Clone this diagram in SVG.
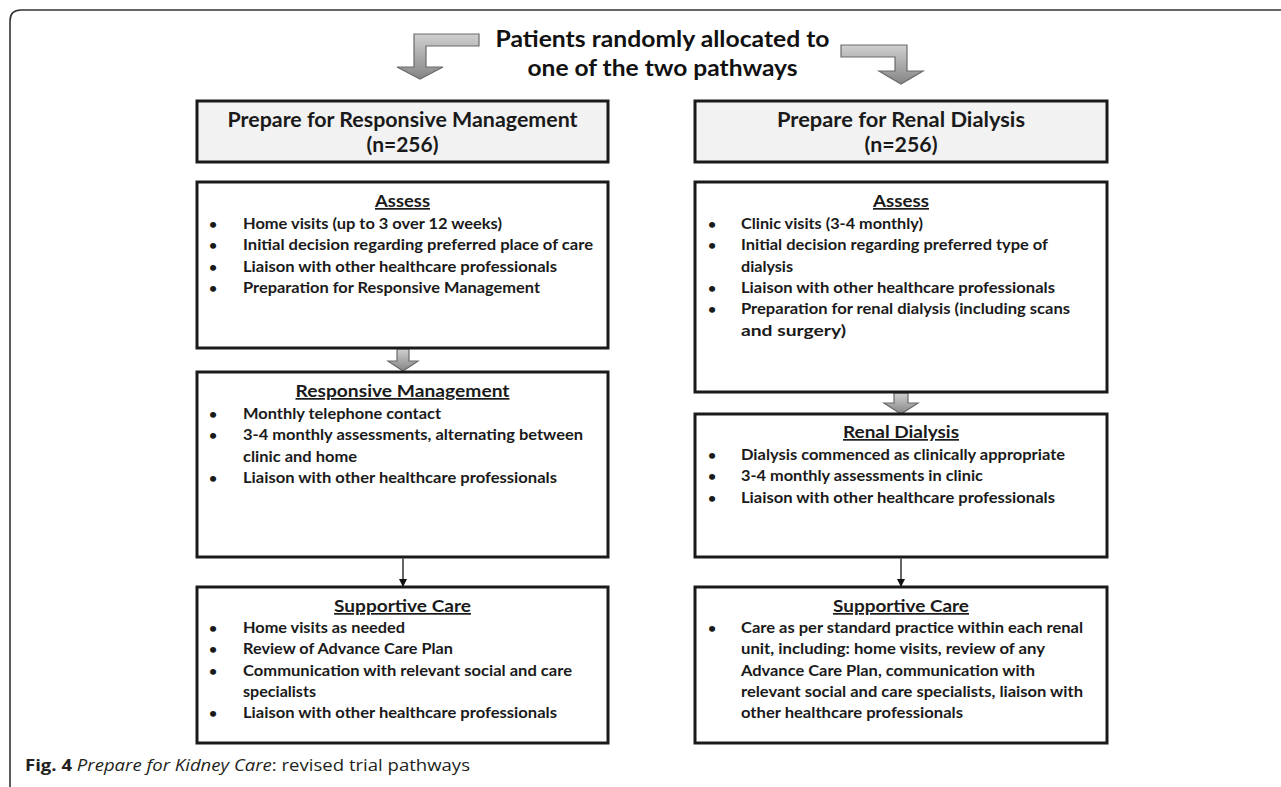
<svg xmlns="http://www.w3.org/2000/svg" width="1281" height="787" viewBox="0 0 1281 787">
<defs>
<linearGradient id="gArrow" x1="0" y1="0" x2="0" y2="1">
<stop offset="0" stop-color="#d0d0d0"/>
<stop offset="1" stop-color="#858585"/>
</linearGradient>
<marker id="mHead" markerWidth="8" markerHeight="8" refX="7" refY="4" orient="auto" markerUnits="userSpaceOnUse">
<path d="M0,0 L8,4 L0,8 Z" fill="#111"/>
</marker>
<style>
.frame{fill:none;stroke:#333;stroke-width:1.6}
.hdr{fill:#f2f2f2;stroke:#1a1a1a;stroke-width:3}
.box{fill:#fff;stroke:#1a1a1a;stroke-width:3}
.blk{fill:url(#gArrow);stroke:#6a6a6a;stroke-width:1.2;stroke-linejoin:miter}
.thin{stroke:#111;stroke-width:1.3;fill:none}
text{font-family:Lato,"Liberation Sans",sans-serif;font-weight:700;fill:#1a1a1a}
.title{font-size:23px;fill:#111}
.htxt{font-size:20px}
.head{font-size:17px;text-decoration:underline}
.body{font-size:16px}
.bul{font-size:14px}
.cap{font-family:"Open Sans","Liberation Sans",sans-serif;font-size:16.5px;font-weight:400;fill:#231f20}
</style>
</defs>

<path class="frame" d="M10,787 V21 Q10,10 21,10 H1281"/>

<g id="title">
<text class="title" x="662.5" y="47" text-anchor="middle" textLength="334" lengthAdjust="spacingAndGlyphs">Patients randomly allocated to</text>
<text class="title" x="662.5" y="76" text-anchor="middle" textLength="270" lengthAdjust="spacingAndGlyphs">one of the two pathways</text>
</g>

<g id="connectors">
<path class="blk" d="M479,34 H414 V67 H397 L420,79 L443,67 H426 V46 H479 Z"/>
<path class="blk" d="M841,45 H907 V71 H923 L901,84 L879,71 H895 V57 H841 Z"/>
<path class="blk" d="M397,349 H409 V361 H418 L403,371 L388,361 H397 Z"/>
<path class="blk" d="M894,393 H908 V403 H918 L901,414 L884,403 H894 Z"/>
<line class="thin" x1="403" y1="558.5" x2="403" y2="586" marker-end="url(#mHead)"/>
<line class="thin" x1="901" y1="558.5" x2="901" y2="586" marker-end="url(#mHead)"/>
</g>

<g id="hdr-left">
<rect class="hdr" x="197" y="101" width="411" height="61"/>
<text class="htxt" x="402.5" y="127" text-anchor="middle" textLength="350" lengthAdjust="spacingAndGlyphs">Prepare for Responsive Management</text>
<text class="htxt" x="402.5" y="152" text-anchor="middle" textLength="72" lengthAdjust="spacingAndGlyphs">(n=256)</text>
</g>

<g id="hdr-right">
<rect class="hdr" x="695" y="101" width="412" height="61"/>
<text class="htxt" x="901" y="127" text-anchor="middle" textLength="248" lengthAdjust="spacingAndGlyphs">Prepare for Renal Dialysis</text>
<text class="htxt" x="901" y="152" text-anchor="middle" textLength="73" lengthAdjust="spacingAndGlyphs">(n=256)</text>
</g>

<g id="assess-left">
<rect class="box" x="197" y="182" width="411" height="166"/>
<text class="head" x="402.5" y="207" text-anchor="middle" textLength="55" lengthAdjust="spacingAndGlyphs">Assess</text>
<text class="bul" x="209" y="229">•</text>
<text class="body" x="243" y="229" textLength="259" lengthAdjust="spacingAndGlyphs">Home visits (up to 3 over 12 weeks)</text>
<text class="bul" x="209" y="250.3">•</text>
<text class="body" x="243" y="250.3" textLength="350" lengthAdjust="spacingAndGlyphs">Initial decision regarding preferred place of care</text>
<text class="bul" x="209" y="271.6">•</text>
<text class="body" x="243" y="271.6" textLength="314" lengthAdjust="spacingAndGlyphs">Liaison with other healthcare professionals</text>
<text class="bul" x="209" y="293">•</text>
<text class="body" x="243" y="293" textLength="297" lengthAdjust="spacingAndGlyphs">Preparation for Responsive Management</text>
</g>

<g id="assess-right">
<rect class="box" x="695" y="182" width="412" height="210"/>
<text class="head" x="901" y="207" text-anchor="middle" textLength="56" lengthAdjust="spacingAndGlyphs">Assess</text>
<text class="bul" x="708" y="229">•</text>
<text class="body" x="741" y="229" textLength="182" lengthAdjust="spacingAndGlyphs">Clinic visits (3-4 monthly)</text>
<text class="bul" x="708" y="250.3">•</text>
<text class="body" x="741" y="250.3" textLength="307" lengthAdjust="spacingAndGlyphs">Initial decision regarding preferred type of</text>
<text class="body" x="741" y="271.6" textLength="52" lengthAdjust="spacingAndGlyphs">dialysis</text>
<text class="bul" x="708" y="293">•</text>
<text class="body" x="741" y="293" textLength="314" lengthAdjust="spacingAndGlyphs">Liaison with other healthcare professionals</text>
<text class="bul" x="708" y="314.3">•</text>
<text class="body" x="741" y="314.3" textLength="329" lengthAdjust="spacingAndGlyphs">Preparation for renal dialysis (including scans</text>
<text class="body" x="741" y="335.6" textLength="105" lengthAdjust="spacingAndGlyphs">and surgery)</text>
</g>

<g id="resp-mgmt">
<rect class="box" x="197" y="372" width="411" height="185"/>
<text class="head" x="402.5" y="397" text-anchor="middle" textLength="214" lengthAdjust="spacingAndGlyphs">Responsive Management</text>
<text class="bul" x="209" y="419">•</text>
<text class="body" x="243" y="419" textLength="198" lengthAdjust="spacingAndGlyphs">Monthly telephone contact</text>
<text class="bul" x="209" y="440.3">•</text>
<text class="body" x="243" y="440.3" textLength="340" lengthAdjust="spacingAndGlyphs">3-4 monthly assessments, alternating between</text>
<text class="body" x="243" y="461.6" textLength="114" lengthAdjust="spacingAndGlyphs">clinic and home</text>
<text class="bul" x="209" y="483">•</text>
<text class="body" x="243" y="483" textLength="314" lengthAdjust="spacingAndGlyphs">Liaison with other healthcare professionals</text>
</g>

<g id="renal-dialysis">
<rect class="box" x="695" y="414" width="412" height="143"/>
<text class="head" x="901" y="438" text-anchor="middle" textLength="116" lengthAdjust="spacingAndGlyphs">Renal Dialysis</text>
<text class="bul" x="708" y="460">•</text>
<text class="body" x="741" y="460" textLength="324" lengthAdjust="spacingAndGlyphs">Dialysis commenced as clinically appropriate</text>
<text class="bul" x="708" y="481.3">•</text>
<text class="body" x="741" y="481.3" textLength="242" lengthAdjust="spacingAndGlyphs">3-4 monthly assessments in clinic</text>
<text class="bul" x="708" y="502.6">•</text>
<text class="body" x="741" y="502.6" textLength="314" lengthAdjust="spacingAndGlyphs">Liaison with other healthcare professionals</text>
</g>

<g id="supportive-left">
<rect class="box" x="197" y="587" width="411" height="156"/>
<text class="head" x="402.5" y="612" text-anchor="middle" textLength="137" lengthAdjust="spacingAndGlyphs">Supportive Care</text>
<text class="bul" x="209" y="633">•</text>
<text class="body" x="243" y="633" textLength="162" lengthAdjust="spacingAndGlyphs">Home visits as needed</text>
<text class="bul" x="209" y="654.3">•</text>
<text class="body" x="243" y="654.3" textLength="210" lengthAdjust="spacingAndGlyphs">Review of Advance Care Plan</text>
<text class="bul" x="209" y="675.6">•</text>
<text class="body" x="243" y="675.6" textLength="329" lengthAdjust="spacingAndGlyphs">Communication with relevant social and care</text>
<text class="body" x="243" y="697" textLength="73" lengthAdjust="spacingAndGlyphs">specialists</text>
<text class="bul" x="209" y="718.3">•</text>
<text class="body" x="243" y="718.3" textLength="314" lengthAdjust="spacingAndGlyphs">Liaison with other healthcare professionals</text>
</g>

<g id="supportive-right">
<rect class="box" x="695" y="587" width="412" height="156"/>
<text class="head" x="901" y="612" text-anchor="middle" textLength="136" lengthAdjust="spacingAndGlyphs">Supportive Care</text>
<text class="bul" x="708" y="633">•</text>
<text class="body" x="741" y="633" textLength="342" lengthAdjust="spacingAndGlyphs">Care as per standard practice within each renal</text>
<text class="body" x="741" y="654.3" textLength="304" lengthAdjust="spacingAndGlyphs">unit, including: home visits, review of any</text>
<text class="body" x="741" y="675.6" textLength="294" lengthAdjust="spacingAndGlyphs">Advance Care Plan, communication with</text>
<text class="body" x="741" y="697" textLength="342" lengthAdjust="spacingAndGlyphs">relevant social and care specialists, liaison with</text>
<text class="body" x="741" y="718.3" textLength="222" lengthAdjust="spacingAndGlyphs">other healthcare professionals</text>
</g>

<g id="caption">
<text class="cap" x="25" y="771" textLength="445" lengthAdjust="spacingAndGlyphs"><tspan font-weight="700">Fig. 4</tspan> <tspan font-style="italic">Prepare for Kidney Care</tspan>: revised trial pathways</text>
</g>
</svg>
